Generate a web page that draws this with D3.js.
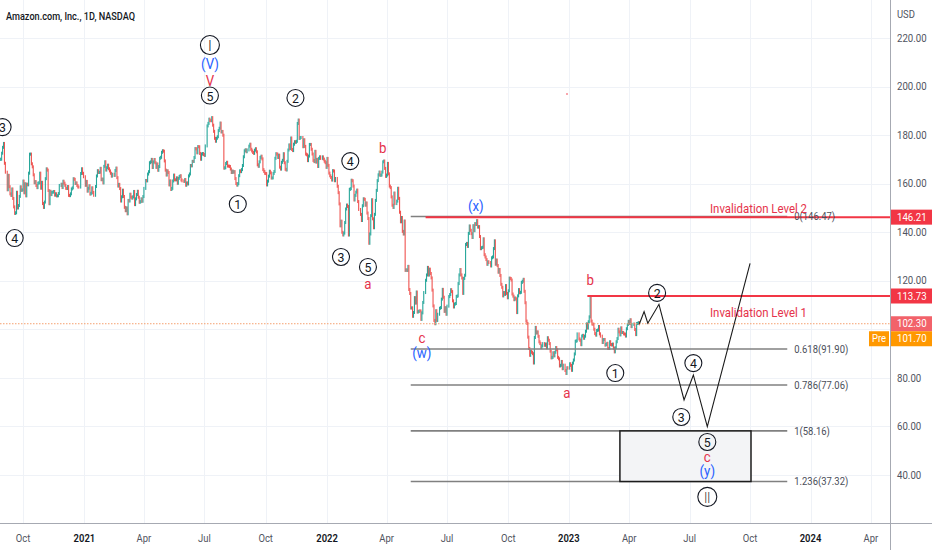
<!DOCTYPE html>
<html><head><meta charset="utf-8">
<script src="https://cdn.jsdelivr.net/npm/d3@7/dist/d3.min.js"></script>
<style>html,body{margin:0;padding:0;background:#fff;}svg{display:block;font-family:Roboto,"Noto Sans",sans-serif;}</style>
</head><body>
<svg id="c" width="932" height="550"></svg>
<script>
// ---------------- DATA ----------------
const titleText = "Amazon.com, Inc., 1D, NASDAQ";
const monthKeys = ["2020-08","2020-09","2020-10","2020-11","2020-12",
  "2021-01","2021-02","2021-03","2021-04","2021-05","2021-06","2021-07","2021-08","2021-09","2021-10","2021-11","2021-12",
  "2022-01","2022-02","2022-03","2022-04","2022-05","2022-06","2022-07","2022-08","2022-09","2022-10","2022-11","2022-12",
  "2023-01","2023-02","2023-03","2023-04"];
const closes2020 = [
  [170.00,170.09,172.55],
  [174.96,176.57,168.40,164.73,157.49,163.43,158.76,155.81,155.15,157.81,153.91,150.44,147.75,148.02,156.45,149.99,150.99,154.76,158.70,157.24,157.44],
  [161.06,156.25,159.96,154.99,159.78,159.53,164.33,172.15,172.19,168.19,166.93,163.64,160.36,160.85,159.25,158.37,160.20,160.36,164.32,158.14,160.55,151.81],
  [150.22,152.42,162.06,166.10,165.57,157.19,151.75,156.87,155.51,156.44,156.55,156.78,155.27,155.84,154.97,155.02,155.95,159.27,159.77,158.40],
  [161.00,160.21,159.33,158.07,158.00,158.82,155.17,155.08,155.82,157.82,158.26,162.03,161.80,160.08,160.31,159.26,158.63,158.60,164.20,166.13,164.26,162.85]
];
const closes2021 = [
  [159.33,160.93,156.92,158.11,159.14,155.71,156.04,158.29,156.37,155.21,158.84,163.17,165.35,164.61,164.70,166.31,161.63,161.88,160.31],
  [167.14,169.02,165.61,166.56,167.61,166.14,165.27,164.29,163.10,163.89,163.40,165.41,166.42,162.47,159.02,159.71,157.98,152.86,154.60],
  [157.31,154.73,150.26,148.87,150.02,147.59,153.10,152.87,155.65,154.46,154.04,154.57,156.79,151.37,153.75,155.52,156.86,154.42,152.33,152.60,153.75,152.76,154.70],
  [158.05,161.32,161.16,163.96,164.93,168.62,168.97,170.00,166.65,168.95,169.96,168.60,166.71,168.11,165.51,167.05,170.47,170.87,172.91,173.56,173.37],
  [169.37,165.57,163.56,165.29,164.59,159.50,161.13,157.60,158.07,161.12,163.53,161.60,161.56,162.38,160.16,162.21,162.96,163.27,161.51,161.15],
  [160.93,161.70,159.35,160.31,159.90,163.21,163.99,167.48,167.34,169.19,169.16,170.77,174.46,174.35,172.70,175.27,175.19,172.45,170.06,172.21,172.43,172.01],
  [171.65,175.55,183.79,184.83,186.57,185.97,185.93,187.20,184.09,181.56,178.68,177.48,178.70,179.34,181.86,182.82,184.96,181.30,181.51,179.96,166.38],
  [166.57,168.31,168.80,167.25,167.22,167.09,166.03,164.61,165.18,164.70,164.95,162.10,160.06,159.39,160.00,163.29,165.29,164.96,165.80,167.48,171.08,173.54],
  [173.95,173.16,173.90,175.46,176.25,174.17,173.46,172.85,172.50,173.79,174.39,173.13,167.78,167.15,168.99,170.82,171.31,170.22,165.79,165.05,164.25],
  [164.16,159.49,161.05,163.10,165.12,164.43,162.32,162.37,164.21,165.02,170.45,172.34,172.17,170.79,171.73,166.79,166.00,168.80,169.62,172.33,168.62],
  [165.91,165.64,169.20,173.86,175.95,174.45,178.81,174.10,173.63,176.26,177.28,177.04,177.45,184.80,186.20,178.63,179.00,179.02,175.23,178.08,175.35],
  [172.19,171.87,169.49,171.37,176.16,176.16,174.17,172.21,169.57,169.09,173.32,168.87,170.02,167.08,170.42,171.07,170.42,171.04,170.13,169.24,168.64,166.72]
];
const closes2022 = [
  [170.40,167.52,164.36,163.25,162.55,161.49,165.36,165.21,161.21,162.14,158.92,156.30,151.67,142.64,144.54,139.99,138.87,139.64,143.98,149.57],
  [151.19,150.61,138.85,157.64,157.94,161.41,161.19,159.00,153.29,155.17,156.51,157.35,152.63,149.38,147.34,144.83,150.92,153.77,153.56],
  [151.14,152.05,147.90,145.64,135.45,139.28,146.82,153.37,145.52,141.85,147.37,153.10,157.24,161.25,163.65,164.77,163.41,163.55,164.77,168.99,169.32,166.30,163.00],
  [163.56,168.35,164.05,159.00,158.38,154.55,151.12,150.20,156.13,151.79,152.82,158.11,153.93,148.23,144.30,146.07,140.35,139.26,144.60,124.28],
  [124.50,124.25,125.93,116.41,114.77,108.79,108.86,105.37,106.93,113.06,110.81,115.37,107.11,107.32,107.59,107.56,104.10,106.78,111.08,115.15,120.21],
  [122.40,125.51,122.35,124.79,123.00,121.18,116.15,109.65,103.67,102.31,107.67,103.66,106.22,108.68,108.95,112.44,116.46,113.22,107.40,108.92,106.21],
  [109.56,113.50,114.33,116.33,115.54,111.75,109.22,110.40,110.63,113.55,113.76,118.85,122.42,124.63,122.42,121.14,114.81,120.97,122.28,134.95],
  [135.39,134.16,139.52,142.57,140.80,139.41,137.83,142.69,140.64,143.55,143.18,144.78,142.10,142.30,138.23,133.22,133.62,133.80,137.28,130.75,129.79,128.73,126.77],
  [127.82,127.51,126.11,129.48,129.82,133.27,136.45,126.82,128.55,126.28,123.53,124.66,122.19,118.54,117.31,113.78,115.15,114.41,118.01,114.80,113.00],
  [115.88,121.09,120.95,120.30,114.56,113.67,112.21,112.90,112.53,106.90,113.79,116.36,115.07,115.25,119.32,119.82,120.60,115.66,110.96,103.41,102.44],
  [96.79,92.12,89.30,90.98,90.53,89.98,86.14,96.63,100.79,98.49,98.94,97.12,94.85,94.14,92.46,93.20,94.13,93.41,93.95,92.42,96.54],
  [95.50,94.13,91.01,88.25,88.46,90.35,89.09,90.55,92.49,91.58,88.45,87.86,84.92,85.19,86.77,83.79,85.25,83.04,81.82,84.18,84.00]
];
const closes2023 = [
  [85.82,85.14,83.12,86.08,87.36,89.87,95.09,95.27,98.12,96.05,95.46,93.68,97.25,97.52,96.32,97.18,99.22,102.24,100.55,103.13],
  [105.15,112.91,103.39,102.18,102.11,100.05,98.24,97.61,99.54,99.70,101.16,98.15,97.20,94.58,95.79,95.82,93.50,93.76,94.23],
  [92.17,92.13,94.90,93.75,93.55,93.92,92.25,90.73,92.43,94.88,96.20,100.04,98.95,97.71,100.61,98.70,98.71,98.13,98.04,97.24,100.25,102.00,103.29],
  [102.41,103.95,101.10,102.06,102.17,99.92,97.83,102.40,102.51,102.74,102.30]
];
const holidays = ["2020-09-07","2020-11-26","2020-12-25","2021-01-01","2021-01-18","2021-02-15","2021-04-02","2021-05-31","2021-07-05",
  "2021-09-06","2021-11-25","2021-12-24","2022-01-17","2022-02-21","2022-04-15","2022-05-30","2022-06-20","2022-07-04","2022-09-05",
  "2022-11-24","2022-12-26","2023-01-02","2023-01-16","2023-02-20","2023-04-07"];

const timeTickDates = ["2020-10-01","2021-01-01","2021-04-01","2021-07-01","2021-10-01","2022-01-01","2022-04-01","2022-07-01","2022-10-01","2023-01-01","2023-04-01","2023-07-01","2023-10-01","2024-01-01","2024-04-01"];
const timeTickLabels = ["Oct","2021","Apr","Jul","Oct","2022","Apr","Jul","Oct","2023","Apr","Jul","Oct","2024","Apr"];
const priceGrid = [40,60,80,100,120,140,160,180,200,220];
const priceTickLabels = [40,60,80,120,140,160,180,200,220];

const lastPrice = 102.30, prePrice = 101.70;
const invalidationLevels = [146.21, 113.73];
const invalidationStart = ["2022-05-31","2023-01-30"];
const invalidationTexts = ["Invalidation Level 2","Invalidation Level 1"];
const fibRatios = ["0","0.618","0.786","1","1.236"];
const fibPrices = [146.47, 91.90, 77.06, 58.16, 37.32];
const fibRange = ["2022-05-09","2023-11-26"];
const targetBox = {from:"2023-03-19", to:"2023-10-03", top:58.16, bottom:37.32};
const projDates = ["2023-04-18","2023-04-25","2023-05-01","2023-05-17","2023-06-23","2023-07-07","2023-07-28","2023-10-02"];
const projPrices = [102.30, 107.3, 102.5, 110.3, 70.9, 81.2, 59.9, 127.2];

// wave labels: [date, price, text, kind]  kind: c=circled, r=roman circled, red, blue
const waveLabels = [
  ["2020-09-01",183.3,"3","c"],["2020-09-18",137.6,"4","c"],
  ["2021-07-09",217.1,"I","r"],["2021-07-09",209.3,"(V)","blue"],["2021-07-09",202.3,"V","red"],["2021-07-09",196.3,"5","c"],
  ["2021-08-20",151.6,"1","c"],["2021-11-16",195.3,"2","c"],
  ["2022-01-24",129.8,"3","c"],["2022-02-07",169.3,"4","c"],["2022-03-04",125.7,"5","c"],["2022-03-04",118.8,"a","red"],["2022-03-28",174.5,"b","red"],
  ["2022-05-25",96.3,"c","red"],["2022-05-25",90.2,"(w)","blue"],["2022-08-15",150.6,"(x)","blue"],
  ["2022-12-29",73.6,"a","red"],["2023-02-02",120.1,"b","red"],
  ["2023-03-13",82.0,"1","c"],["2023-05-15",115.0,"2","c"],["2023-06-20",63.9,"3","c"],["2023-07-07",86.1,"4","c"],
  ["2023-07-28",53.6,"5","c"],["2023-07-28",47.2,"c","red"],["2023-07-28",41.7,"(y)","blue"],["2023-07-28",31.0,"II","r"]
];

// ---------------- LAYOUT / SCALES ----------------
const W = 932, H = 550, plotR = 890, plotB = 523;
const MS = 86400000, EPOCH = Date.UTC(2018,0,1);
const wd = s => { const d = (typeof s === "string") ? Date.parse(s) : s; const n = Math.floor((d-EPOCH)/MS); const w = Math.floor(n/7), r = n%7; return w*5 + Math.min(r,5); };
const x = d3.scaleLinear().domain([wd("2021-01-01"), wd("2024-01-01")]).range([84.4, 810.5]);
const y = d3.scaleLinear().domain([40, 220]).range([475, 38]);
const X = s => x(wd(s));

const svg = d3.select("#c");
const RED = "#f23645", BLUE = "#2962ff", LRED = "#e5334b";

function txt(g, px, py, s, o) {
  o = o || {};
  const t = g.append("text").attr("transform", `translate(${px},${py}) scale(${o.sx||1},1)`)
    .attr("font-size", o.size||11).attr("fill", o.fill||"#131722")
    .attr("text-anchor", o.anchor||"start").attr("dy", o.dy||"0.35em").text(s);
  if (o.weight) t.attr("font-weight", o.weight);
  if (o.len) t.attr("textLength", o.len).attr("lengthAdjust","spacingAndGlyphs");
  return t;
}

// build bars
const hol = new Set(holidays);
const bars = [];
const allMonths = [].concat(closes2020, closes2021, closes2022, closes2023);
monthKeys.forEach((mk, mi) => {
  const vals = allMonths[mi];
  const [yy, mm] = mk.split("-").map(Number);
  const days = [];
  for (let d = Date.UTC(yy, mm-1, 1); new Date(d).getUTCMonth() === mm-1; d += MS) {
    const dow = new Date(d).getUTCDay();
    const iso = new Date(d).toISOString().slice(0,10);
    if (dow > 0 && dow < 6 && !hol.has(iso)) days.push(d);
  }
  let use = days;
  if (vals.length < days.length) use = (mi === 0) ? days.slice(days.length - vals.length) : days.slice(0, vals.length);
  vals.forEach((v, i) => {
    const d = use[Math.min(use.length-1, Math.round(i * (use.length-1) / Math.max(1, vals.length-1)))];
    bars.push({t: d, c: v});
  });
});
bars.forEach((b, i) => { b.o = i ? bars[i-1].c : b.c; });

// clip
svg.append("defs").append("clipPath").attr("id","clip").append("rect").attr("x",0).attr("y",0).attr("width",plotR).attr("height",plotB);

// grid
const grid = svg.append("g").attr("stroke","#eff2f7").attr("stroke-width",1);
timeTickDates.forEach(s => { const gx = Math.round(X(s))+0.5; grid.append("line").attr("x1",gx).attr("x2",gx).attr("y1",0).attr("y2",plotB); });
priceGrid.forEach(v => { const gy = Math.round(y(v))+0.5; grid.append("line").attr("x1",0).attr("x2",plotR).attr("y1",gy).attr("y2",gy); });

const plot = svg.append("g").attr("clip-path","url(#clip)");

// candles
plot.append("g").selectAll("rect").data(bars).join("rect")
  .attr("x", d => x(wd(d.t)) - 0.55).attr("width", 1.1)
  .attr("y", d => y(Math.max(d.o, d.c)) - 1.5)
  .attr("height", d => Math.max(2, Math.abs(y(d.o) - y(d.c)) + 3))
  .attr("fill", d => d.c >= d.o ? "#26a69a" : "#ef5350");

// last price dotted line
plot.append("line").attr("x1",0).attr("x2",plotR).attr("y1",y(lastPrice)).attr("y2",y(lastPrice))
  .attr("stroke","#f5a070").attr("stroke-width",1).attr("stroke-dasharray","1.5 1.5");

// fib lines
fibPrices.forEach((p, i) => {
  plot.append("line").attr("x1",X(fibRange[0])).attr("x2",X(fibRange[1])).attr("y1",y(p)).attr("y2",y(p))
    .attr("stroke","#808080").attr("stroke-width",1.6);
});
// target box
plot.append("rect").attr("x",X(targetBox.from)).attr("y",y(targetBox.top))
  .attr("width",X(targetBox.to)-X(targetBox.from)).attr("height",y(targetBox.bottom)-y(targetBox.top))
  .attr("fill","#f3f4f6").attr("stroke","#1c1c1c").attr("stroke-width",1.5);
// invalidation lines
invalidationLevels.forEach((p, i) => {
  plot.append("line").attr("x1",X(invalidationStart[i])).attr("x2",plotR).attr("y1",y(p)).attr("y2",y(p))
    .attr("stroke",RED).attr("stroke-width",2);
});
// fib labels
fibPrices.forEach((p, i) => {
  txt(svg, X(fibRange[1]) + 7, y(p), `${fibRatios[i]}(${p.toFixed(2)})`, {size:11, fill:"#4a4e59", sx:0.86});
});
// invalidation texts
txt(svg, 710, y(invalidationLevels[0]) - 9, invalidationTexts[0], {size:13, fill:LRED, len:97});
txt(svg, 710, y(invalidationLevels[1]) + 16, invalidationTexts[1], {size:13, fill:LRED, len:97});

// projection path
const line = d3.line().x(d => X(d[0])).y(d => y(d[1]));
plot.append("path").datum(projDates.map((d,i)=>[d, projPrices[i]])).attr("d", line)
  .attr("fill","none").attr("stroke","#1a1a1a").attr("stroke-width",1.1);

// wave labels
const wl = svg.append("g");
waveLabels.forEach(([d, p, s, k]) => {
  const lx = X(d), ly = y(p);
  if (k === "c" || k === "r") {
    const r = k === "r" ? 9.5 : 8.5;
    wl.append("circle").attr("cx",lx).attr("cy",ly).attr("r",r).attr("fill","none").attr("stroke","#131722").attr("stroke-width",1.1);
    txt(wl, lx, ly + 0.5, s, {size: k === "r" ? 15 : 13, anchor:"middle", fill:"#131722", sx: s === "II" ? 0.75 : 0.95,
      weight: k === "r" ? 300 : null});
  } else {
    txt(wl, lx, ly, s, {size:14, anchor:"middle", fill: k === "red" ? LRED : BLUE, sx:0.95});
  }
});

// axes lines
svg.append("line").attr("x1",0).attr("x2",W).attr("y1",plotB+0.5).attr("y2",plotB+0.5).attr("stroke","#a6a9b2");
svg.append("line").attr("x1",plotR+0.5).attr("x2",plotR+0.5).attr("y1",0).attr("y2",H).attr("stroke","#a6a9b2");

// time axis labels
timeTickDates.forEach((s, i) => {
  const yr = /^\d{4}$/.test(timeTickLabels[i]);
  txt(svg, X(s), 538, timeTickLabels[i], {size:10.5, anchor:"middle", fill: yr ? "#131722" : "#50535e", weight: yr ? 600 : null, sx:0.9});
});

// price axis labels
txt(svg, 897, 14, "USD", {size:10.5, fill:"#50535e", sx:0.9});
priceTickLabels.forEach(v => txt(svg, 897, y(v), v.toFixed(2), {size:10.5, fill:"#50535e", sx:0.92}));

// price boxes
function priceBox(v, cy, fill) {
  svg.append("rect").attr("x",plotR+1).attr("y",cy-7.5).attr("width",41).attr("height",15).attr("fill",fill);
  txt(svg, 897, cy, v.toFixed(2), {size:10.5, fill:"#fff", sx:0.92});
}
priceBox(invalidationLevels[0], y(invalidationLevels[0]), RED);
priceBox(invalidationLevels[1], y(invalidationLevels[1]), RED);
priceBox(lastPrice, y(lastPrice), "#f2626a");
priceBox(prePrice, y(lastPrice) + 15, "#ff9800");
svg.append("rect").attr("x",869).attr("y",y(lastPrice)+7.5).attr("width",20).attr("height",15).attr("fill","#ff9800");
txt(svg, 879, y(lastPrice)+15, "Pre", {size:10.5, fill:"#fff", anchor:"middle", sx:0.9});

// title
txt(svg, 6, 16, titleText, {size:11, weight:500, fill:"#131722", len:129});
// small red mark
svg.append("circle").attr("cx",567).attr("cy",94).attr("r",0.8).attr("fill",RED);
</script>
</body></html>
